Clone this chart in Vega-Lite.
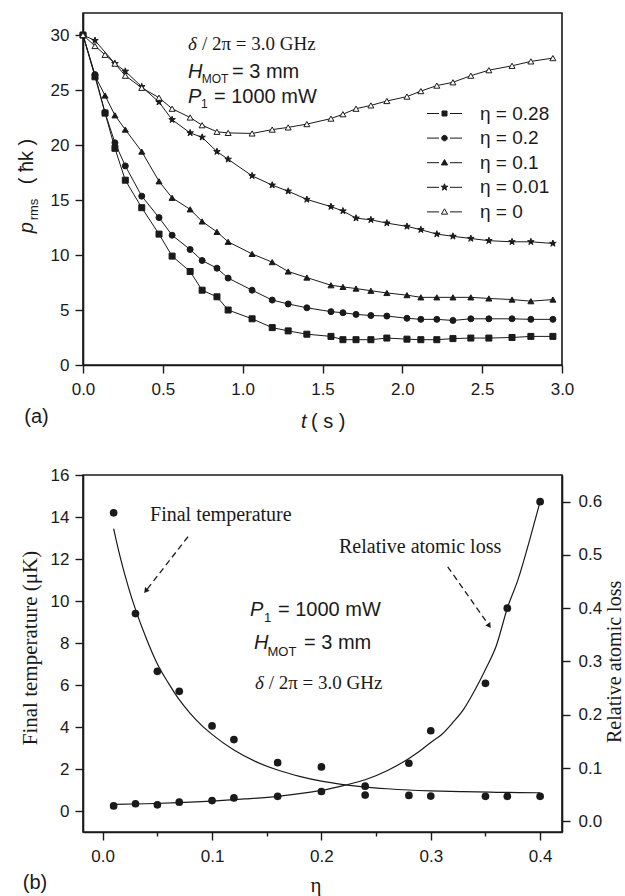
{
  "$schema": "https://vega.github.io/schema/vega-lite/v6.json",
  "padding": {"left": 16, "top": 12, "right": 0, "bottom": 0},
  "background": "white",
  "bounds": "flush",
  "spacing": 110,
  "config": {
    "font": "Liberation Sans",
    "view": {"stroke": "#1a1a1a", "strokeWidth": 1.6},
    "axis": {"domainColor": "#1a1a1a", "domainWidth": 1.6, "tickColor": "#1a1a1a", "tickWidth": 1.4, "labelFont": "Liberation Sans", "labelFontSize": 17, "labelColor": "#1a1a1a", "labelPadding": 6, "grid": false, "labelOverlap": false, "labelFlush": false, "labelBound": false},
    "text": {"color": "#1a1a1a"}
  },
  "datasets": {
    "top": [
      {"s": "η = 0.28", "t": 0, "p": 30}, {"s": "η = 0.28", "t": 0.075, "p": 26.2}, {"s": "η = 0.28", "t": 0.138, "p": 22.9}, {"s": "η = 0.28", "t": 0.2, "p": 19.7}, {"s": "η = 0.28", "t": 0.265, "p": 16.8}, {"s": "η = 0.28", "t": 0.368, "p": 14.3}, {"s": "η = 0.28", "t": 0.476, "p": 11.9}, {"s": "η = 0.28", "t": 0.558, "p": 9.9}, {"s": "η = 0.28", "t": 0.671, "p": 8.5}, {"s": "η = 0.28", "t": 0.746, "p": 6.8}, {"s": "η = 0.28", "t": 0.839, "p": 6.2}, {"s": "η = 0.28", "t": 0.909, "p": 5.0}, {"s": "η = 0.28", "t": 1.059, "p": 4.2}, {"s": "η = 0.28", "t": 1.185, "p": 3.4}, {"s": "η = 0.28", "t": 1.285, "p": 3.1}, {"s": "η = 0.28", "t": 1.402, "p": 2.8}, {"s": "η = 0.28", "t": 1.553, "p": 2.6}, {"s": "η = 0.28", "t": 1.628, "p": 2.3}, {"s": "η = 0.28", "t": 1.71, "p": 2.3}, {"s": "η = 0.28", "t": 1.803, "p": 2.3}, {"s": "η = 0.28", "t": 1.903, "p": 2.45}, {"s": "η = 0.28", "t": 2.029, "p": 2.35}, {"s": "η = 0.28", "t": 2.116, "p": 2.3}, {"s": "η = 0.28", "t": 2.216, "p": 2.3}, {"s": "η = 0.28", "t": 2.317, "p": 2.4}, {"s": "η = 0.28", "t": 2.429, "p": 2.45}, {"s": "η = 0.28", "t": 2.542, "p": 2.45}, {"s": "η = 0.28", "t": 2.687, "p": 2.5}, {"s": "η = 0.28", "t": 2.805, "p": 2.6}, {"s": "η = 0.28", "t": 2.943, "p": 2.6},
      {"s": "η = 0.2", "t": 0, "p": 30}, {"s": "η = 0.2", "t": 0.075, "p": 26.4}, {"s": "η = 0.2", "t": 0.138, "p": 22.95}, {"s": "η = 0.2", "t": 0.2, "p": 20.2}, {"s": "η = 0.2", "t": 0.265, "p": 18.1}, {"s": "η = 0.2", "t": 0.368, "p": 15.35}, {"s": "η = 0.2", "t": 0.476, "p": 13.4}, {"s": "η = 0.2", "t": 0.558, "p": 11.8}, {"s": "η = 0.2", "t": 0.671, "p": 10.5}, {"s": "η = 0.2", "t": 0.746, "p": 9.5}, {"s": "η = 0.2", "t": 0.839, "p": 8.8}, {"s": "η = 0.2", "t": 0.909, "p": 7.9}, {"s": "η = 0.2", "t": 1.059, "p": 6.8}, {"s": "η = 0.2", "t": 1.185, "p": 5.9}, {"s": "η = 0.2", "t": 1.285, "p": 5.55}, {"s": "η = 0.2", "t": 1.402, "p": 5.2}, {"s": "η = 0.2", "t": 1.553, "p": 4.85}, {"s": "η = 0.2", "t": 1.628, "p": 4.75}, {"s": "η = 0.2", "t": 1.71, "p": 4.6}, {"s": "η = 0.2", "t": 1.803, "p": 4.5}, {"s": "η = 0.2", "t": 1.903, "p": 4.45}, {"s": "η = 0.2", "t": 2.029, "p": 4.25}, {"s": "η = 0.2", "t": 2.116, "p": 4.15}, {"s": "η = 0.2", "t": 2.216, "p": 4.15}, {"s": "η = 0.2", "t": 2.317, "p": 4.05}, {"s": "η = 0.2", "t": 2.429, "p": 4.2}, {"s": "η = 0.2", "t": 2.542, "p": 4.2}, {"s": "η = 0.2", "t": 2.687, "p": 4.2}, {"s": "η = 0.2", "t": 2.805, "p": 4.15}, {"s": "η = 0.2", "t": 2.943, "p": 4.15},
      {"s": "η = 0.1", "t": 0, "p": 30}, {"s": "η = 0.1", "t": 0.075, "p": 26.3}, {"s": "η = 0.1", "t": 0.138, "p": 24.5}, {"s": "η = 0.1", "t": 0.2, "p": 22.7}, {"s": "η = 0.1", "t": 0.265, "p": 21.4}, {"s": "η = 0.1", "t": 0.368, "p": 19.4}, {"s": "η = 0.1", "t": 0.476, "p": 16.7}, {"s": "η = 0.1", "t": 0.558, "p": 15.2}, {"s": "η = 0.1", "t": 0.671, "p": 14.15}, {"s": "η = 0.1", "t": 0.746, "p": 13.05}, {"s": "η = 0.1", "t": 0.839, "p": 12.1}, {"s": "η = 0.1", "t": 0.909, "p": 11.2}, {"s": "η = 0.1", "t": 1.059, "p": 10.1}, {"s": "η = 0.1", "t": 1.185, "p": 9.35}, {"s": "η = 0.1", "t": 1.285, "p": 8.5}, {"s": "η = 0.1", "t": 1.402, "p": 7.95}, {"s": "η = 0.1", "t": 1.553, "p": 7.25}, {"s": "η = 0.1", "t": 1.628, "p": 7.1}, {"s": "η = 0.1", "t": 1.71, "p": 6.95}, {"s": "η = 0.1", "t": 1.803, "p": 6.75}, {"s": "η = 0.1", "t": 1.903, "p": 6.55}, {"s": "η = 0.1", "t": 2.029, "p": 6.35}, {"s": "η = 0.1", "t": 2.116, "p": 6.15}, {"s": "η = 0.1", "t": 2.216, "p": 6.15}, {"s": "η = 0.1", "t": 2.317, "p": 6.15}, {"s": "η = 0.1", "t": 2.429, "p": 6.15}, {"s": "η = 0.1", "t": 2.542, "p": 6.05}, {"s": "η = 0.1", "t": 2.687, "p": 5.95}, {"s": "η = 0.1", "t": 2.805, "p": 5.8}, {"s": "η = 0.1", "t": 2.943, "p": 5.95},
      {"s": "η = 0.01", "t": 0, "p": 30}, {"s": "η = 0.01", "t": 0.075, "p": 29.5}, {"s": "η = 0.01", "t": 0.2, "p": 27.4}, {"s": "η = 0.01", "t": 0.265, "p": 26.7}, {"s": "η = 0.01", "t": 0.368, "p": 25.3}, {"s": "η = 0.01", "t": 0.476, "p": 23.9}, {"s": "η = 0.01", "t": 0.558, "p": 22.3}, {"s": "η = 0.01", "t": 0.671, "p": 21.1}, {"s": "η = 0.01", "t": 0.746, "p": 20.7}, {"s": "η = 0.01", "t": 0.839, "p": 19.4}, {"s": "η = 0.01", "t": 0.909, "p": 18.7}, {"s": "η = 0.01", "t": 1.059, "p": 17.2}, {"s": "η = 0.01", "t": 1.185, "p": 16.35}, {"s": "η = 0.01", "t": 1.285, "p": 15.8}, {"s": "η = 0.01", "t": 1.402, "p": 15.05}, {"s": "η = 0.01", "t": 1.553, "p": 14.4}, {"s": "η = 0.01", "t": 1.628, "p": 14.0}, {"s": "η = 0.01", "t": 1.71, "p": 13.35}, {"s": "η = 0.01", "t": 1.803, "p": 13.2}, {"s": "η = 0.01", "t": 1.903, "p": 12.9}, {"s": "η = 0.01", "t": 2.029, "p": 12.6}, {"s": "η = 0.01", "t": 2.116, "p": 12.3}, {"s": "η = 0.01", "t": 2.216, "p": 11.9}, {"s": "η = 0.01", "t": 2.317, "p": 11.7}, {"s": "η = 0.01", "t": 2.429, "p": 11.5}, {"s": "η = 0.01", "t": 2.542, "p": 11.3}, {"s": "η = 0.01", "t": 2.687, "p": 11.2}, {"s": "η = 0.01", "t": 2.805, "p": 11.2}, {"s": "η = 0.01", "t": 2.943, "p": 11.05},
      {"s": "η = 0", "t": 0, "p": 30}, {"s": "η = 0", "t": 0.075, "p": 29.0}, {"s": "η = 0", "t": 0.138, "p": 28.2}, {"s": "η = 0", "t": 0.2, "p": 27.4}, {"s": "η = 0", "t": 0.265, "p": 26.3}, {"s": "η = 0", "t": 0.368, "p": 25.2}, {"s": "η = 0", "t": 0.476, "p": 24.3}, {"s": "η = 0", "t": 0.558, "p": 23.3}, {"s": "η = 0", "t": 0.671, "p": 22.5}, {"s": "η = 0", "t": 0.746, "p": 21.8}, {"s": "η = 0", "t": 0.839, "p": 21.2}, {"s": "η = 0", "t": 0.909, "p": 21.1}, {"s": "η = 0", "t": 1.059, "p": 21.05}, {"s": "η = 0", "t": 1.185, "p": 21.4}, {"s": "η = 0", "t": 1.285, "p": 21.6}, {"s": "η = 0", "t": 1.402, "p": 21.9}, {"s": "η = 0", "t": 1.553, "p": 22.4}, {"s": "η = 0", "t": 1.628, "p": 22.8}, {"s": "η = 0", "t": 1.71, "p": 23.3}, {"s": "η = 0", "t": 1.803, "p": 23.6}, {"s": "η = 0", "t": 1.903, "p": 24.0}, {"s": "η = 0", "t": 2.029, "p": 24.4}, {"s": "η = 0", "t": 2.116, "p": 24.9}, {"s": "η = 0", "t": 2.216, "p": 25.4}, {"s": "η = 0", "t": 2.317, "p": 25.7}, {"s": "η = 0", "t": 2.429, "p": 26.3}, {"s": "η = 0", "t": 2.542, "p": 26.8}, {"s": "η = 0", "t": 2.687, "p": 27.2}, {"s": "η = 0", "t": 2.805, "p": 27.6}, {"s": "η = 0", "t": 2.943, "p": 27.9}
    ],
    "bottom": [
      {"eta": 0.01, "temp": 14.2, "loss": 0.029}, {"eta": 0.03, "temp": 9.4, "loss": 0.033}, {"eta": 0.05, "temp": 6.65, "loss": 0.031}, {"eta": 0.07, "temp": 5.7, "loss": 0.036}, {"eta": 0.1, "temp": 4.05, "loss": 0.039}, {"eta": 0.12, "temp": 3.4, "loss": 0.044}, {"eta": 0.16, "temp": 2.3, "loss": 0.047}, {"eta": 0.2, "temp": 2.1, "loss": 0.056}, {"eta": 0.24, "temp": 0.76, "loss": 0.066}, {"eta": 0.28, "temp": 0.74, "loss": 0.109}, {"eta": 0.3, "temp": 0.71, "loss": 0.17}, {"eta": 0.35, "temp": 0.7, "loss": 0.259}, {"eta": 0.37, "temp": 0.7, "loss": 0.4}, {"eta": 0.4, "temp": 0.7, "loss": 0.6}
    ],
    "fitTemp": [
      {"eta": 0.01, "temp": 13.45}, {"eta": 0.015, "temp": 12.3}, {"eta": 0.02, "temp": 11.3}, {"eta": 0.025, "temp": 10.4}, {"eta": 0.03, "temp": 9.6}, {"eta": 0.04, "temp": 8.2}, {"eta": 0.05, "temp": 7.0}, {"eta": 0.06, "temp": 6.1}, {"eta": 0.07, "temp": 5.3}, {"eta": 0.08, "temp": 4.65}, {"eta": 0.09, "temp": 4.1}, {"eta": 0.1, "temp": 3.65}, {"eta": 0.12, "temp": 2.9}, {"eta": 0.14, "temp": 2.35}, {"eta": 0.16, "temp": 1.95}, {"eta": 0.18, "temp": 1.65}, {"eta": 0.2, "temp": 1.42}, {"eta": 0.22, "temp": 1.26}, {"eta": 0.24, "temp": 1.14}, {"eta": 0.26, "temp": 1.06}, {"eta": 0.28, "temp": 1.0}, {"eta": 0.3, "temp": 0.96}, {"eta": 0.33, "temp": 0.92}, {"eta": 0.36, "temp": 0.89}, {"eta": 0.4, "temp": 0.87}
    ],
    "fitLoss": [
      {"eta": 0.01, "loss": 0.032}, {"eta": 0.04, "loss": 0.033}, {"eta": 0.07, "loss": 0.035}, {"eta": 0.1, "loss": 0.038}, {"eta": 0.13, "loss": 0.042}, {"eta": 0.16, "loss": 0.047}, {"eta": 0.18, "loss": 0.052}, {"eta": 0.2, "loss": 0.058}, {"eta": 0.22, "loss": 0.067}, {"eta": 0.24, "loss": 0.078}, {"eta": 0.26, "loss": 0.095}, {"eta": 0.28, "loss": 0.118}, {"eta": 0.29, "loss": 0.132}, {"eta": 0.3, "loss": 0.148}, {"eta": 0.31, "loss": 0.163}, {"eta": 0.32, "loss": 0.185}, {"eta": 0.33, "loss": 0.21}, {"eta": 0.34, "loss": 0.245}, {"eta": 0.35, "loss": 0.285}, {"eta": 0.36, "loss": 0.33}, {"eta": 0.37, "loss": 0.4}, {"eta": 0.38, "loss": 0.455}, {"eta": 0.39, "loss": 0.525}, {"eta": 0.4, "loss": 0.6}
    ]
  },
  "vconcat": [
    {
      "width": 479,
      "height": 352,
      "layer": [
        {
          "data": {"name": "top"},
          "mark": {"type": "line", "color": "#1a1a1a", "strokeWidth": 1},
          "encoding": {
            "x": {"field": "t", "type": "quantitative", "scale": {"domain": [0, 3], "nice": false, "zero": false},
              "axis": {"title": null, "labelPadding": 8, "values": [0, 0.25, 0.5, 0.75, 1, 1.25, 1.5, 1.75, 2, 2.25, 2.5, 2.75, 3], "labelExpr": "datum.value % 0.5 === 0 ? format(datum.value, '.1f') : ''", "tickSize": {"condition": {"test": "datum.value % 0.5 !== 0", "value": 4}, "value": 8}}},
            "y": {"field": "p", "type": "quantitative", "scale": {"domain": [0, 32], "nice": false, "zero": false},
              "axis": {"title": null, "values": [0, 2.5, 5, 7.5, 10, 12.5, 15, 17.5, 20, 22.5, 25, 27.5, 30], "labelExpr": "datum.value % 5 === 0 ? format(datum.value, 'd') : ''", "tickSize": {"condition": {"test": "datum.value % 5 !== 0", "value": 4}, "value": 8}}},
            "detail": {"field": "s"}
          }
        },
        {
          "data": {"name": "top"},
          "mark": {"type": "point", "filled": true, "stroke": "#1a1a1a", "strokeWidth": 1, "opacity": 1},
          "encoding": {
            "x": {"field": "t", "type": "quantitative"},
            "y": {"field": "p", "type": "quantitative"},
            "shape": {"field": "s", "type": "nominal",
              "scale": {"domain": ["η = 0.28", "η = 0.2", "η = 0.1", "η = 0.01", "η = 0"], "range": ["square", "circle", "triangle-up", "M0,-1.15L0.26,-0.36L1.09,-0.36L0.42,0.14L0.68,0.93L0,0.44L-0.68,0.93L-0.42,0.14L-1.09,-0.36L-0.26,-0.36Z", "triangle-up"]},
              "legend": null},
            "fill": {"field": "s", "type": "nominal",
              "scale": {"domain": ["η = 0.28", "η = 0.2", "η = 0.1", "η = 0.01", "η = 0"], "range": ["#1a1a1a", "#1a1a1a", "#1a1a1a", "#1a1a1a", "white"]},
              "legend": null},
            "size": {"field": "s", "type": "nominal",
              "scale": {"domain": ["η = 0.28", "η = 0.2", "η = 0.1", "η = 0.01", "η = 0"], "range": [36, 36, 48, 56, 48]},
              "legend": null}
          }
        },
        {
          "data": {"name": "top"},
          "transform": [{"filter": "false"}],
          "mark": {"type": "point", "filled": true, "stroke": "#1a1a1a", "strokeWidth": 1, "opacity": 1},
          "encoding": {
            "x": {"field": "t", "type": "quantitative"},
            "y": {"field": "p", "type": "quantitative"},
            "shape": {"field": "s", "type": "nominal",
              "scale": {"domain": ["η = 0.28", "η = 0.2", "η = 0.1", "η = 0.01", "η = 0"], "range": [
                "M-3.5,0H-1.1M1.1,0H3.5M-0.5,-0.5H0.5V0.5H-0.5Z",
                "M-3.5,0H-1.1M1.1,0H3.5M-0.55,0A0.55,0.55,0,1,0,0.55,0A0.55,0.55,0,1,0,-0.55,0Z",
                "M-3.5,0H-1.1M1.1,0H3.5M0,-0.62L0.62,0.45L-0.62,0.45Z",
                "M-3.5,0H-1.1M1.1,0H3.5M0,-0.7L0.16,-0.22L0.67,-0.22L0.26,0.08L0.41,0.57L0,0.27L-0.41,0.57L-0.26,0.08L-0.67,-0.22L-0.16,-0.22Z",
                "M-3.5,0H-1.1M1.1,0H3.5M0,-0.62L0.62,0.45L-0.62,0.45Z"]},
              "legend": {"orient": "none", "legendX": 352, "legendY": 91, "title": null, "padding": 0, "labelFont": "Liberation Sans", "labelFontSize": 19, "labelColor": "#1a1a1a", "labelOffset": 26, "symbolSize": 100, "rowPadding": 4.6, "symbolStrokeWidth": 1, "symbolStrokeColor": "#1a1a1a", "symbolOpacity": 1,
                "encode": {"symbols": {"update": {"stroke": {"value": "#1a1a1a"}, "strokeWidth": {"value": 1}, "opacity": {"value": 1}}}}}},
            "fill": {"field": "s", "type": "nominal",
              "scale": {"domain": ["η = 0.28", "η = 0.2", "η = 0.1", "η = 0.01", "η = 0"], "range": ["#1a1a1a", "#1a1a1a", "#1a1a1a", "#1a1a1a", "white"]},
              "legend": {"orient": "none", "legendX": 352, "legendY": 91, "title": null, "padding": 0, "labelFont": "Liberation Sans", "labelFontSize": 19, "labelColor": "#1a1a1a", "labelOffset": 26, "symbolSize": 100, "rowPadding": 4.6, "symbolStrokeWidth": 1, "symbolStrokeColor": "#1a1a1a", "symbolOpacity": 1,
                "encode": {"symbols": {"update": {"stroke": {"value": "#1a1a1a"}, "strokeWidth": {"value": 1}, "opacity": {"value": 1}}}}}}
          }
        },
        {"data": {"values": [{}]}, "mark": {"type": "text", "text": "δ", "font": "Liberation Serif", "fontStyle": "italic", "fontSize": 19, "align": "left", "baseline": "middle"}, "encoding": {"x": {"datum": 0.6576}, "y": {"datum": 29.22}}},
        {"data": {"values": [{}]}, "mark": {"type": "text", "text": "/ 2π = 3.0 GHz", "font": "Liberation Serif", "fontSize": 19, "align": "left", "baseline": "middle", "dx": 14}, "encoding": {"x": {"datum": 0.6576}, "y": {"datum": 29.22}}},
        {"data": {"values": [{}]}, "mark": {"type": "text", "text": "H", "fontStyle": "italic", "fontSize": 20, "align": "left", "baseline": "middle"}, "encoding": {"x": {"datum": 0.6576}, "y": {"datum": 26.64}}},
        {"data": {"values": [{}]}, "mark": {"type": "text", "text": "MOT", "fontSize": 12, "align": "left", "baseline": "middle", "dx": 13.7, "dy": 7}, "encoding": {"x": {"datum": 0.6576}, "y": {"datum": 26.64}}},
        {"data": {"values": [{}]}, "mark": {"type": "text", "text": "= 3 mm", "fontSize": 20, "align": "left", "baseline": "middle", "dx": 44}, "encoding": {"x": {"datum": 0.6576}, "y": {"datum": 26.64}}},
        {"data": {"values": [{}]}, "mark": {"type": "text", "text": "P", "fontStyle": "italic", "fontSize": 20, "align": "left", "baseline": "middle"}, "encoding": {"x": {"datum": 0.6576}, "y": {"datum": 24.36}}},
        {"data": {"values": [{}]}, "mark": {"type": "text", "text": "1", "fontSize": 12, "align": "left", "baseline": "middle", "dx": 13, "dy": 7}, "encoding": {"x": {"datum": 0.6576}, "y": {"datum": 24.36}}},
        {"data": {"values": [{}]}, "mark": {"type": "text", "text": "= 1000 mW", "fontSize": 20, "align": "left", "baseline": "middle", "dx": 26}, "encoding": {"x": {"datum": 0.6576}, "y": {"datum": 24.36}}},
        {"data": {"values": [{}]}, "mark": {"type": "text", "text": "t", "fontStyle": "italic", "fontSize": 20, "align": "left", "baseline": "middle"}, "encoding": {"x": {"datum": 1.365}, "y": {"datum": -5.18}}},
        {"data": {"values": [{}]}, "mark": {"type": "text", "text": "( s )", "fontSize": 20, "align": "left", "baseline": "middle", "dx": 10}, "encoding": {"x": {"datum": 1.365}, "y": {"datum": -5.18}}},
        {"data": {"values": [{}]}, "mark": {"type": "text", "text": "(a)", "fontSize": 20, "align": "left", "baseline": "middle"}, "encoding": {"x": {"datum": -0.3676}, "y": {"datum": -4.75}}},
        {"data": {"values": [{}]}, "mark": {"type": "text", "text": "p", "fontStyle": "italic", "fontSize": 20, "align": "left", "baseline": "middle", "angle": 270}, "encoding": {"x": {"datum": -0.3507}, "y": {"datum": 11.97}}},
        {"data": {"values": [{}]}, "mark": {"type": "text", "text": "rms", "fontSize": 13, "align": "left", "baseline": "middle", "angle": 270, "dx": 13, "dy": 7}, "encoding": {"x": {"datum": -0.3507}, "y": {"datum": 11.97}}},
        {"data": {"values": [{}]}, "mark": {"type": "text", "text": "( ħk )", "fontSize": 20, "align": "left", "baseline": "middle", "angle": 270, "dx": 49}, "encoding": {"x": {"datum": -0.3507}, "y": {"datum": 11.97}}}
      ],
      "resolve": {"scale": {"shape": "independent", "fill": "independent"}, "legend": {"shape": "independent", "fill": "independent"}}
    },
    {
      "width": 479,
      "height": 357,
      "layer": [
        {
          "layer": [
            {
              "data": {"name": "fitTemp"},
              "mark": {"type": "line", "color": "#1a1a1a", "strokeWidth": 1.2, "interpolate": "monotone"},
              "encoding": {
                "x": {"field": "eta", "type": "quantitative", "scale": {"domain": [-0.018, 0.42], "nice": false, "zero": false},
                  "axis": {"title": null, "labelPadding": 8, "values": [0, 0.05, 0.1, 0.15, 0.2, 0.25, 0.3, 0.35, 0.4], "labelExpr": "round(datum.value * 100) % 10 === 0 ? format(datum.value, '.1f') : ''", "tickSize": {"condition": {"test": "round(datum.value * 100) % 10 !== 0", "value": 4}, "value": 8}}},
                "y": {"field": "temp", "type": "quantitative", "scale": {"domain": [-1, 16], "nice": false, "zero": false},
                  "axis": {"title": null, "orient": "left", "values": [0, 1, 2, 3, 4, 5, 6, 7, 8, 9, 10, 11, 12, 13, 14, 15, 16], "labelExpr": "datum.value % 2 === 0 ? format(datum.value, 'd') : ''", "tickSize": {"condition": {"test": "datum.value % 2 !== 0", "value": 4}, "value": 8}}}
              }
            },
            {
              "data": {"name": "bottom"},
              "mark": {"type": "circle", "color": "#1a1a1a", "size": 59, "opacity": 1},
              "encoding": {"x": {"field": "eta", "type": "quantitative"}, "y": {"field": "temp", "type": "quantitative"}}
            },
            {"data": {"values": [{}]}, "mark": {"type": "text", "text": "Final  temperature", "font": "Liberation Serif", "fontSize": 20, "align": "left", "baseline": "middle"}, "encoding": {"x": {"datum": 0.0433}, "y": {"datum": 14.1}}},
            {"data": {"values": [{}]}, "mark": {"type": "text", "text": "Relative atomic loss", "font": "Liberation Serif", "fontSize": 20, "align": "left", "baseline": "middle"}, "encoding": {"x": {"datum": 0.2161}, "y": {"datum": 12.59}}},
            {"data": {"values": [{}]}, "mark": {"type": "text", "text": "P", "fontStyle": "italic", "fontSize": 20, "align": "left", "baseline": "middle"}, "encoding": {"x": {"datum": 0.1347}, "y": {"datum": 9.57}}},
            {"data": {"values": [{}]}, "mark": {"type": "text", "text": "1", "fontSize": 13, "align": "left", "baseline": "middle", "dx": 14, "dy": 8}, "encoding": {"x": {"datum": 0.1347}, "y": {"datum": 9.57}}},
            {"data": {"values": [{}]}, "mark": {"type": "text", "text": "= 1000 mW", "fontSize": 20, "align": "left", "baseline": "middle", "dx": 28}, "encoding": {"x": {"datum": 0.1347}, "y": {"datum": 9.57}}},
            {"data": {"values": [{}]}, "mark": {"type": "text", "text": "H", "fontStyle": "italic", "fontSize": 20, "align": "left", "baseline": "middle"}, "encoding": {"x": {"datum": 0.1384}, "y": {"datum": 8.0}}},
            {"data": {"values": [{}]}, "mark": {"type": "text", "text": "MOT", "fontSize": 13, "align": "left", "baseline": "middle", "dx": 13.5, "dy": 8.5}, "encoding": {"x": {"datum": 0.1384}, "y": {"datum": 8.0}}},
            {"data": {"values": [{}]}, "mark": {"type": "text", "text": "= 3 mm", "fontSize": 20, "align": "left", "baseline": "middle", "dx": 50}, "encoding": {"x": {"datum": 0.1384}, "y": {"datum": 8.0}}},
            {"data": {"values": [{}]}, "mark": {"type": "text", "text": "δ", "font": "Liberation Serif", "fontStyle": "italic", "fontSize": 19, "align": "left", "baseline": "middle"}, "encoding": {"x": {"datum": 0.1393}, "y": {"datum": 6.08}}},
            {"data": {"values": [{}]}, "mark": {"type": "text", "text": "/ 2π = 3.0 GHz", "font": "Liberation Serif", "fontSize": 19, "align": "left", "baseline": "middle", "dx": 13.7}, "encoding": {"x": {"datum": 0.1393}, "y": {"datum": 6.08}}},
            {"data": {"values": [{}]}, "mark": {"type": "text", "text": "η", "font": "Liberation Serif", "fontSize": 21, "align": "center", "baseline": "middle"}, "encoding": {"x": {"datum": 0.195}, "y": {"datum": -3.55}}},
            {"data": {"values": [{}]}, "mark": {"type": "text", "text": "(b)", "fontSize": 20, "align": "left", "baseline": "middle"}, "encoding": {"x": {"datum": -0.0731}, "y": {"datum": -3.43}}},
            {"data": {"values": [{}]}, "mark": {"type": "text", "text": "Final  temperature (μK)", "font": "Liberation Serif", "fontSize": 21, "align": "center", "baseline": "middle", "angle": 270}, "encoding": {"x": {"datum": -0.0655}, "y": {"datum": 7.76}}},
            {"data": {"values": [{}]}, "mark": {"type": "text", "text": "Relative atomic loss", "font": "Liberation Serif", "fontSize": 20, "align": "center", "baseline": "middle", "angle": 270}, "encoding": {"x": {"datum": 0.4685}, "y": {"datum": 7.1}}},
            {"data": {"values": [{}]}, "mark": {"type": "rule", "color": "#1a1a1a", "strokeWidth": 1.3, "strokeDash": [6, 4]}, "encoding": {"x": {"datum": 0.078}, "y": {"datum": 13.06}, "x2": {"datum": 0.0394}, "y2": {"datum": 10.48}}},
            {"data": {"values": [{}]}, "mark": {"type": "rule", "color": "#1a1a1a", "strokeWidth": 1.3, "strokeDash": [6, 4]}, "encoding": {"x": {"datum": 0.3155}, "y": {"datum": 11.63}, "x2": {"datum": 0.3535}, "y2": {"datum": 8.82}}},
            {"data": {"values": [{}]}, "mark": {"type": "point", "shape": "triangle-up", "filled": true, "color": "#1a1a1a", "size": 35, "angle": 217.9, "opacity": 1}, "encoding": {"x": {"datum": 0.0394}, "y": {"datum": 10.48}}},
            {"data": {"values": [{}]}, "mark": {"type": "point", "shape": "triangle-up", "filled": true, "color": "#1a1a1a", "size": 35, "angle": 144.9, "opacity": 1}, "encoding": {"x": {"datum": 0.3535}, "y": {"datum": 8.82}}}
          ]
        },
        {
          "layer": [
            {
              "data": {"name": "fitLoss"},
              "mark": {"type": "line", "color": "#1a1a1a", "strokeWidth": 1.2, "interpolate": "monotone"},
              "encoding": {
                "x": {"field": "eta", "type": "quantitative"},
                "y": {"field": "loss", "type": "quantitative", "scale": {"domain": [-0.02, 0.65], "nice": false, "zero": false},
                  "axis": {"title": null, "orient": "right", "labelPadding": 8, "values": [0, 0.05, 0.1, 0.15, 0.2, 0.25, 0.3, 0.35, 0.4, 0.45, 0.5, 0.55, 0.6], "labelExpr": "round(datum.value * 100) % 10 === 0 ? format(datum.value, '.1f') : ''", "tickSize": {"condition": {"test": "round(datum.value * 100) % 10 !== 0", "value": 4}, "value": 8}}}
              }
            },
            {
              "data": {"name": "bottom"},
              "mark": {"type": "circle", "color": "#1a1a1a", "size": 59, "opacity": 1},
              "encoding": {"x": {"field": "eta", "type": "quantitative"}, "y": {"field": "loss", "type": "quantitative"}}
            }
          ]
        }
      ],
      "resolve": {"scale": {"y": "independent"}}
    }
  ]
}
